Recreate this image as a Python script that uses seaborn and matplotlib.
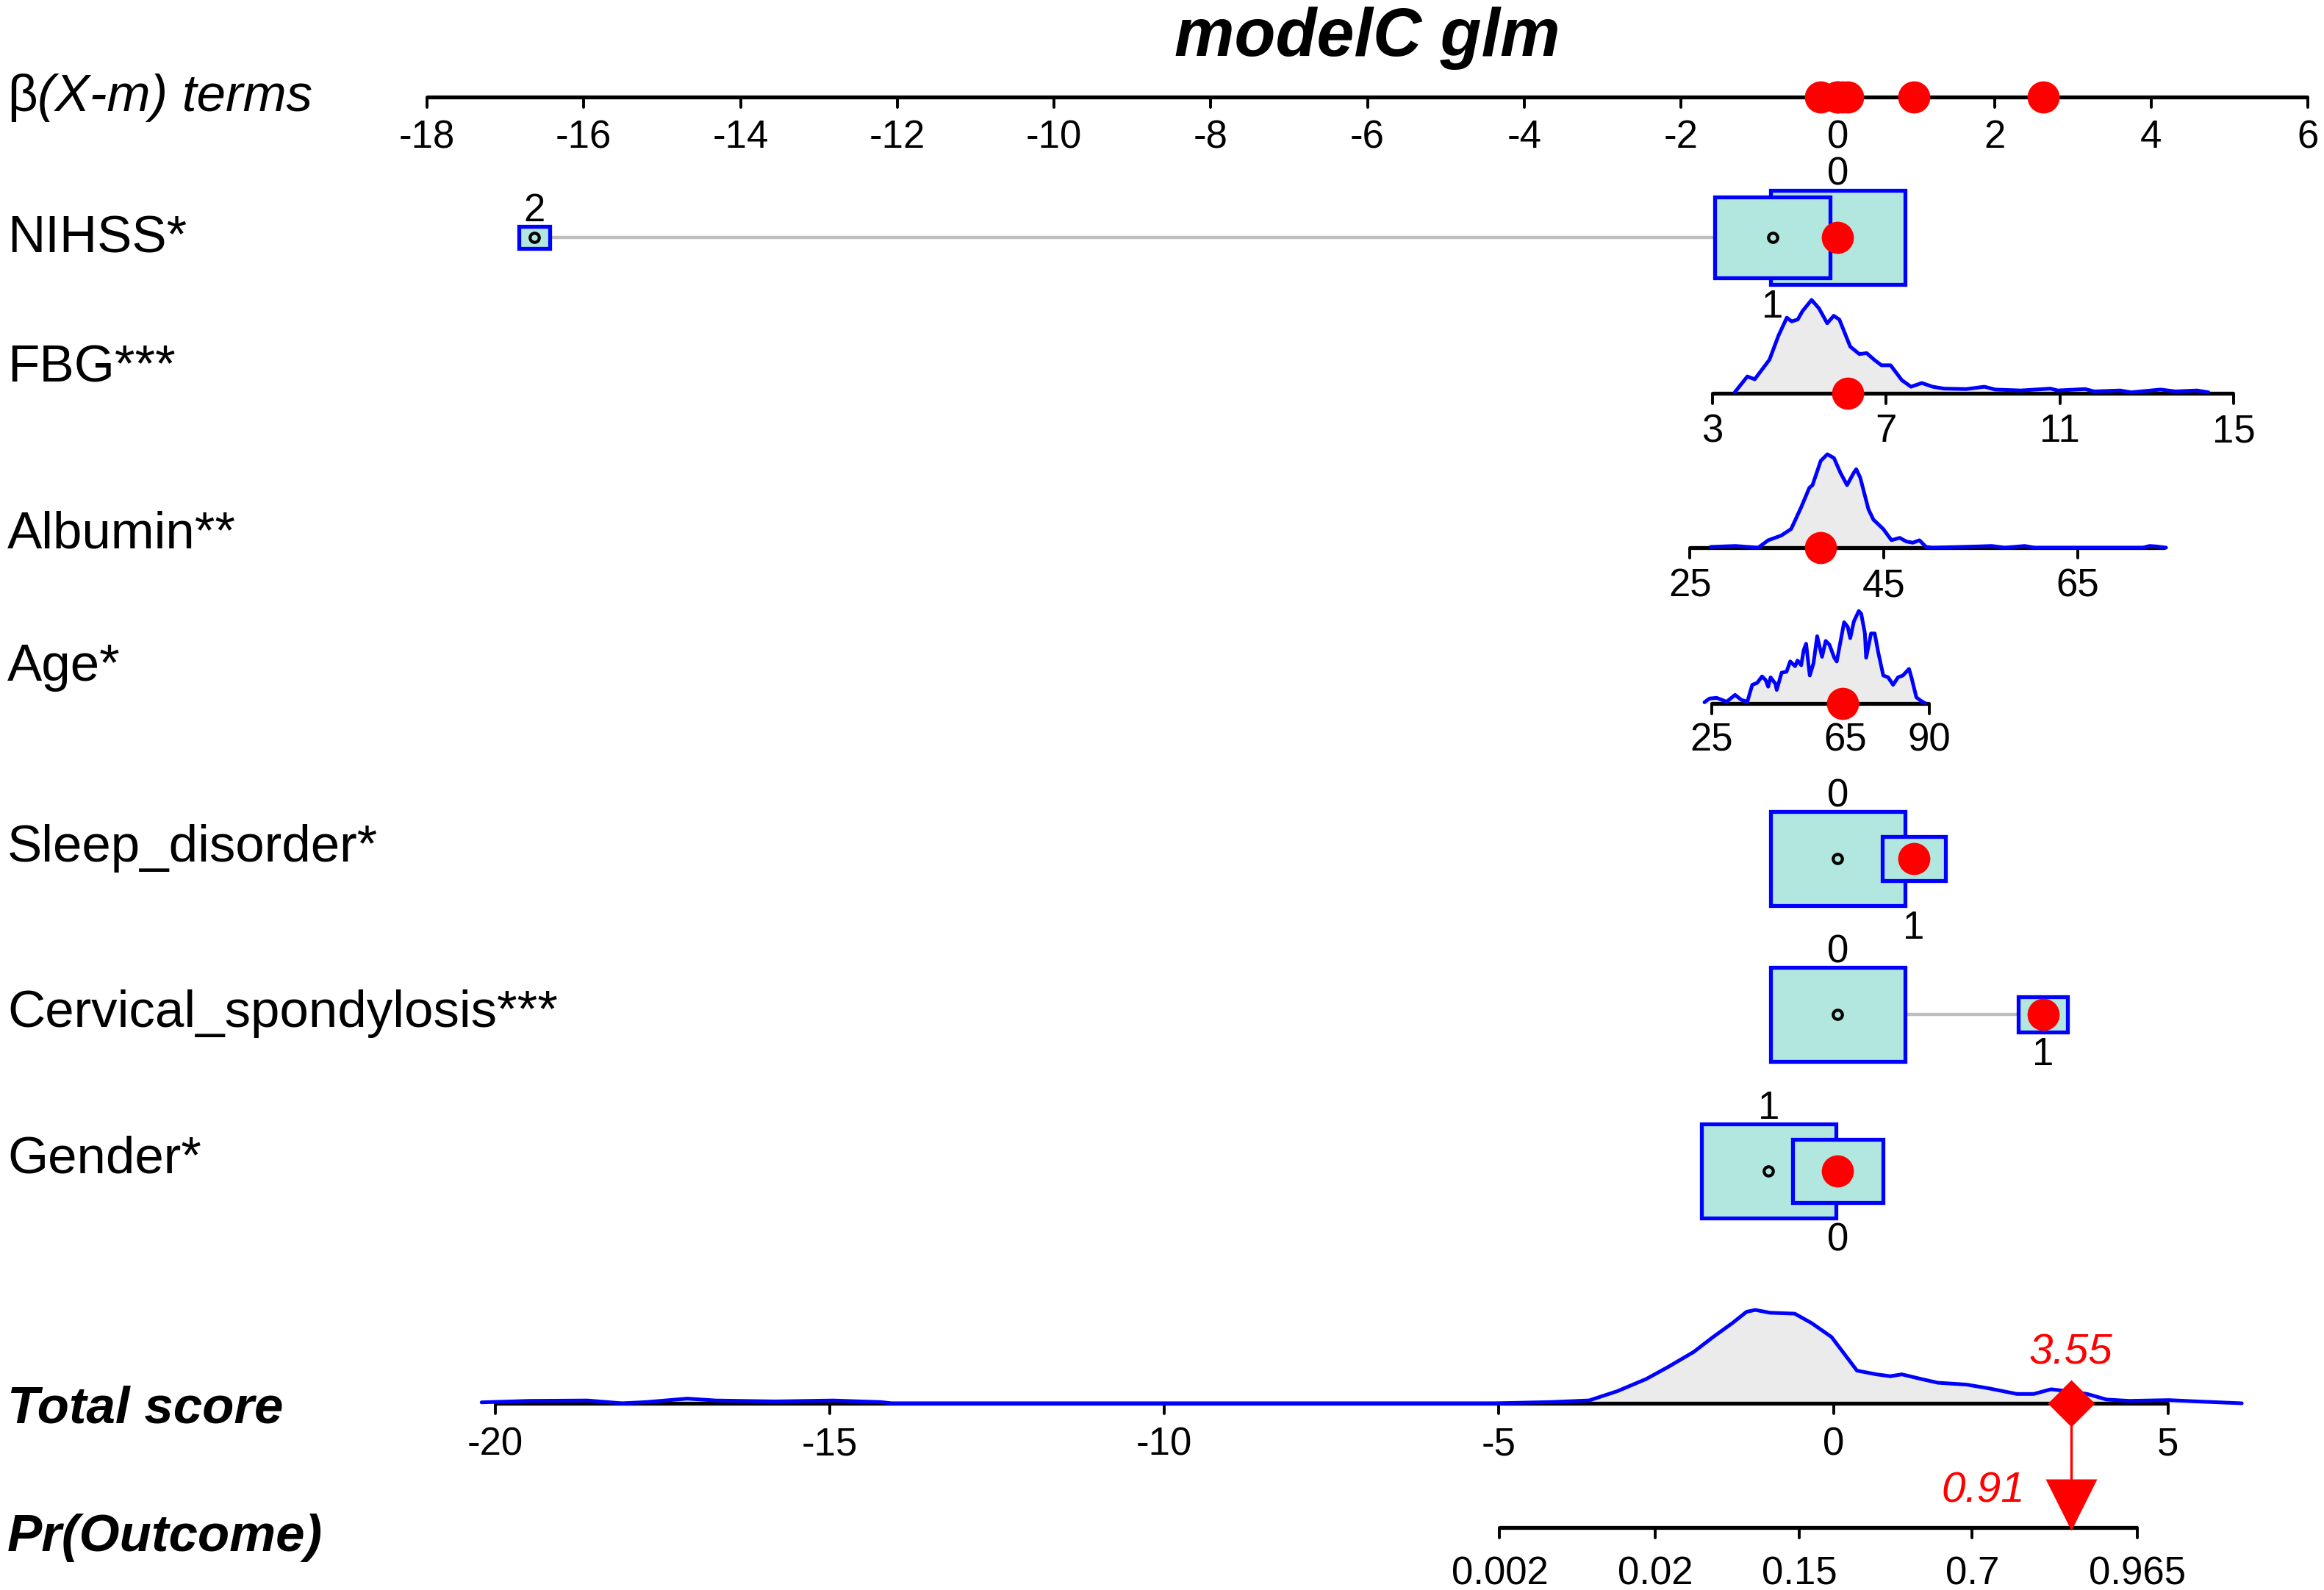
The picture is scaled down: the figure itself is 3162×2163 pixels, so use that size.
import numpy as np
import matplotlib
matplotlib.use('Agg')
import matplotlib.pyplot as plt
from matplotlib.patches import Rectangle
from matplotlib.transforms import blended_transform_factory
import seaborn as sns

# ---------------- data ----------------
beta_ticks = list(range(-18, 7, 2))

# categorical terms: levels, beta(X-m) position, share of patients
nihss_levels = ['0', '1', '2']
nihss_beta = [0.0, -0.83, -16.63]
nihss_freq = [0.56, 0.41, 0.03]

sleep_levels = ['0', '1']
sleep_beta = [0.0, 0.97]
sleep_freq = [0.82, 0.18]

cerv_levels = ['0', '1']
cerv_beta = [0.0, 2.62]
cerv_freq = [0.88, 0.12]

gender_levels = ['0', '1']
gender_beta = [0.0, -0.88]
gender_freq = [0.31, 0.69]

# continuous terms: coefficient, centring value, ticks, density (relative height)
fbg_coef, fbg_mean = 0.554, 5.88
fbg_ticks = [3, 7, 11, 15]
fbg_x = [3.51, 3.80, 3.97, 4.31, 4.52, 4.71, 4.82, 4.96, 5.07, 5.28, 5.45, 5.64, 5.79,
         5.92, 6.17, 6.38, 6.55, 6.72, 6.89, 7.10, 7.36, 7.57, 7.82, 8.07, 8.33, 8.84,
         9.26, 9.51, 10.10, 10.78, 10.95, 11.58, 11.79, 12.39, 12.64, 13.32, 13.66,
         14.16, 14.42]
fbg_dens = [0.01, 0.18, 0.15, 0.36, 0.62, 0.81, 0.77, 0.79, 0.88, 1.0, 0.91, 0.75, 0.83,
            0.79, 0.50, 0.42, 0.43, 0.36, 0.30, 0.30, 0.14, 0.07, 0.11, 0.07, 0.05, 0.045,
            0.07, 0.04, 0.03, 0.05, 0.03, 0.045, 0.02, 0.03, 0.01, 0.04, 0.02, 0.03, 0.01]

alb_coef, alb_mean = 0.1238, 40.23
alb_ticks = [25, 45, 65]
alb_range = [25, 74]
alb_x = [27.14, 29.68, 32.05, 33.07, 34.42, 35.44, 36.46, 37.31, 37.64, 38.49, 39.17,
         39.85, 40.53, 41.20, 41.88, 42.15, 42.56, 43.41, 43.92, 44.93, 45.78, 46.63,
         47.31, 47.98, 48.66, 49.34, 50.02, 54.76, 56.12, 57.47, 59.51, 60.53, 71.71,
         72.39, 73.07, 74.08]
alb_dens = [0.008, 0.018, 0.0, 0.079, 0.13, 0.20, 0.43, 0.64, 0.67, 0.93, 1.0, 0.96,
            0.80, 0.67, 0.80, 0.84, 0.75, 0.41, 0.30, 0.20, 0.08, 0.105, 0.066, 0.053,
            0.079, 0.008, 0.0, 0.013, 0.018, 0.0, 0.018, 0.0, 0.0, 0.018, 0.013, 0.0]

age_coef, age_mean = 0.0427, 62.6
age_ticks = [25, 65, 90]
age_x = [22.80, 24.27, 26.46, 27.93, 29.39, 31.95, 33.78, 35.61, 37.08, 38.54, 40.01,
         41.11, 41.84, 42.57, 44.03, 44.40, 45.86, 47.33, 48.43, 49.89, 50.62, 51.72,
         52.45, 53.18, 54.28, 55.38, 56.48, 57.94, 59.04, 60.14, 61.60, 62.34, 64.53,
         65.63, 66.36, 67.46, 68.92, 69.66, 70.75, 71.12, 72.58, 73.68, 74.78, 76.24,
         77.71, 79.17, 80.64, 82.10, 83.93, 84.66, 86.13, 87.59, 88.69]
age_dens = [0.013, 0.053, 0.06, 0.04, 0.018, 0.092, 0.04, 0.018, 0.20, 0.22, 0.29,
            0.25, 0.18, 0.28, 0.21, 0.145, 0.33, 0.34, 0.45, 0.40, 0.46, 0.41, 0.57,
            0.64, 0.30, 0.43, 0.72, 0.50, 0.67, 0.63, 0.49, 0.45, 0.87, 0.82, 0.70,
            0.88, 0.99, 0.96, 0.75, 0.49, 0.75, 0.75, 0.54, 0.30, 0.28, 0.20, 0.28,
            0.30, 0.37, 0.28, 0.066, 0.026, 0.005]

# total score distribution and probability scale
total_ticks = [-20, -15, -10, -5, 0, 5]
total_x = [-20.2, -19.49, -18.62, -18.1, -17.74, -17.13, -16.7, -15.82, -14.95, -14.24,
           -14.07, -6.75, -5.07, -4.23, -3.65, -3.23, -2.80, -2.47, -2.09, -1.80, -1.51,
           -1.30, -1.17, -0.95, -0.58, -0.33, -0.03, 0.35, 0.64, 0.85, 1.02, 1.31, 1.56,
           1.99, 2.32, 2.74, 2.99, 3.25, 3.50, 3.79, 4.08, 4.42, 5.01, 5.43, 6.10]
total_dens = [0.01, 0.026, 0.03, 0.0, 0.013, 0.05, 0.03, 0.02, 0.03, 0.013, 0.0, 0.0,
              0.0, 0.013, 0.031, 0.13, 0.26, 0.39, 0.55, 0.71, 0.86, 0.98, 1.0, 0.97,
              0.96, 0.86, 0.71, 0.35, 0.31, 0.29, 0.31, 0.26, 0.22, 0.20, 0.16, 0.10,
              0.10, 0.15, 0.13, 0.10, 0.04, 0.026, 0.034, 0.02, 0.0]
prob_ticks = [0.002, 0.02, 0.15, 0.7, 0.965]
intercept = -1.224

# the patient shown in red
obs_nihss, obs_fbg, obs_alb, obs_age = '0', 6.11, 38.5, 64.1
obs_sleep, obs_cerv, obs_gender = '1', '1', '0'
obs_total = 3.55

# ---------------- layout (pixels from the top) ----------------
W, H = 3162, 2163
Y_TOP, Y_NIHSS, Y_FBG, Y_ALB, Y_AGE = 132, 323, 535, 745, 957
Y_SLEEP, Y_CERV, Y_GENDER, Y_TOTAL, Y_PR = 1168, 1380, 1593, 1909, 2078
BOX_W, BOX_H = 1.72, 128     # largest box: beta units x pixels
DENS_H = 127
TICK = 14
BLUE, RED, BOXFILL, GREYFILL = '#0000FF', '#FF0000', '#B1E7DF', '#EBEBEB'
NUM_FS, LAB_FS = 38, 51

sns.set_theme(style='white')
plt.rcParams['font.family'] = ['Liberation Sans', 'DejaVu Sans']
plt.rcParams['text.color'] = 'black'

fig = plt.figure(figsize=(W / 100, H / 100), dpi=100)
ax = fig.add_axes([0, 0, 1, 1])
px_b = (3140 - 581) / 24
ax.set_xlim(-18 - 581 / px_b, 6 + (W - 3140) / px_b)
ax.set_ylim(H, 0)
ax.axis('off')

ax2 = fig.add_axes([0, 0, 1, 1])
ax2.patch.set_alpha(0)
px_s = (2950 - 673.5) / 25
ax2.set_xlim(-20 - 673.5 / px_s, 5 + (W - 2950) / px_s)
ax2.set_ylim(H, 0)
ax2.axis('off')

lab_tr = blended_transform_factory(fig.transFigure, ax.transData)


def draw_axis(a, lo, hi, tick_pos, tick_lab, y, lab_off):
    a.plot([lo, hi], [y, y], color='black', lw=3.8, zorder=2, solid_capstyle='butt')
    for p, t in zip(tick_pos, tick_lab):
        a.plot([p, p], [y, y + TICK], color='black', lw=2.8, zorder=2)
        a.text(p, y + lab_off, t, ha='center', va='baseline', fontsize=NUM_FS)


def draw_density(a, xs, hs, y):
    ys = [y - h * DENS_H for h in hs]
    a.fill_between(xs, ys, y, color=GREYFILL, lw=0, zorder=1)
    sns.lineplot(x=xs, y=ys, ax=a, color=BLUE, lw=3.6, sort=False, estimator=None, zorder=3)


def red_dot(a, x, y):
    a.plot([x], [y], 'o', ms=31.5, color=RED, mec='none', zorder=8)


def draw_cat(levels, betas, freqs, obs, y):
    fmax = max(freqs)
    scale = [np.sqrt(f / fmax) for f in freqs]
    ax.plot([min(betas), max(betas)], [y, y], color='#BEBEBE', lw=3.2, zorder=1)
    for k, i in enumerate(np.argsort(freqs)[::-1]):
        w, h = BOX_W * scale[i], BOX_H * scale[i]
        ax.add_patch(Rectangle((betas[i] - w / 2, y - h / 2), w, h, facecolor=BOXFILL,
                               edgecolor=BLUE, lw=3.8, zorder=2 + k))
        ax.plot([betas[i]], [y], 'o', ms=9, mfc='none', mec='black', mew=3, zorder=2.5 + k)
    # labels alternate above / below in order of position
    for k, i in enumerate(np.argsort(betas)):
        half = max(BOX_H * scale[j] / 2 for j in range(len(betas))
                   if abs(betas[j] - betas[i]) < BOX_W * scale[j] / 2 + 0.13)
        if k % 2 == 0:
            ax.text(betas[i], y - half - 7, levels[i], ha='center', va='baseline', fontsize=NUM_FS)
        else:
            ax.text(betas[i], y + half + 7 + 38, levels[i], ha='center', va='baseline', fontsize=NUM_FS)
    b = betas[levels.index(obs)]
    red_dot(ax, b, y)
    return b


# title and top beta axis
ax.text(np.mean([beta_ticks[0], beta_ticks[-1]]), 76, 'modelC glm', ha='center', va='baseline',
        fontsize=66, fontweight='bold', fontstyle='italic')
draw_axis(ax, beta_ticks[0], beta_ticks[-1], beta_ticks, [str(t) for t in beta_ticks], Y_TOP, 69)

terms = []
terms.append(draw_cat(nihss_levels, nihss_beta, nihss_freq, obs_nihss, Y_NIHSS))

# continuous rows
for coef, mean, ticks, rng, xs, dens, obs, y, off in [
        (fbg_coef, fbg_mean, fbg_ticks, [3, 15], fbg_x, fbg_dens, obs_fbg, Y_FBG, 66),
        (alb_coef, alb_mean, alb_ticks, alb_range, alb_x, alb_dens, obs_alb, Y_ALB, 67),
        (age_coef, age_mean, age_ticks, [25, 90], age_x, age_dens, obs_age, Y_AGE, 64)]:
    tr = lambda v: coef * (np.asarray(v, dtype=float) - mean)
    draw_density(ax, tr(xs), dens, y)
    draw_axis(ax, tr(rng[0]), tr(rng[1]), tr(ticks), [str(t) for t in ticks], y, off)
    red_dot(ax, tr(obs), y)
    terms.append(float(tr(obs)))

terms.append(draw_cat(sleep_levels, sleep_beta, sleep_freq, obs_sleep, Y_SLEEP))
terms.append(draw_cat(cerv_levels, cerv_beta, cerv_freq, obs_cerv, Y_CERV))
terms.append(draw_cat(gender_levels, gender_beta, gender_freq, obs_gender, Y_GENDER))

for t in terms:
    red_dot(ax, t, Y_TOP)

# total score and probability
draw_density(ax2, total_x, total_dens, Y_TOTAL)
draw_axis(ax2, total_ticks[0], total_ticks[-1], total_ticks, [str(t) for t in total_ticks], Y_TOTAL, 71)
logit = lambda p: np.log(np.asarray(p) / (1 - np.asarray(p)))
prob_pos = logit(prob_ticks) - intercept
draw_axis(ax2, prob_pos[0], prob_pos[-1], prob_pos, [str(p) for p in prob_ticks], Y_PR, 77)

obs_prob = 1 / (1 + np.exp(-(obs_total + intercept)))
ax2.plot([obs_total, obs_total], [Y_TOTAL, Y_PR - 60], color=RED, lw=2.4, zorder=5)
ax2.plot([obs_total], [Y_PR - 31], 'v', ms=51, color=RED, mec='none', zorder=6)
ax2.plot([obs_total], [Y_TOTAL], 'D', ms=33, color=RED, mec='none', zorder=6)
ax2.text(obs_total, Y_TOTAL - 54, f'{obs_total:.2f}', color=RED, ha='center', va='baseline',
         fontsize=42, fontstyle='italic')
ax2.annotate(f'{obs_prob:.2f}', (obs_total, Y_PR - 35), xytext=(-45, 0), textcoords='offset points',
             color=RED, ha='right', va='baseline', fontsize=42, fontstyle='italic')

# row labels
row_labels = [('NIHSS*', 343, 'normal', 'normal'),
              ('FBG***', 520, 'normal', 'normal'),
              ('Albumin**', 746, 'normal', 'normal'),
              ('Age*', 926, 'normal', 'normal'),
              ('Sleep_disorder*', 1172, 'normal', 'normal'),
              ('Cervical_spondylosis***', 1397, 'normal', 'normal'),
              ('Gender*', 1595, 'normal', 'normal'),
              ('Total score', 1936, 'bold', 'italic'),
              ('Pr(Outcome)', 2110, 'bold', 'italic')]
for text, yb, wt, st in row_labels:
    ax.text(10 / W, yb, text, transform=lab_tr, ha='left', va='baseline', fontsize=LAB_FS,
            fontweight=wt, fontstyle=st)

# beta upright, the rest italic
beta_lab = ax.text(10 / W, 151, 'β', transform=lab_tr, ha='left', va='baseline', fontsize=LAB_FS)
ax.annotate('(X-m) terms', xy=(1, 0), xycoords=beta_lab, ha='left', va='bottom',
            fontsize=LAB_FS, fontstyle='italic')

fig.savefig('out.png', dpi=100)
